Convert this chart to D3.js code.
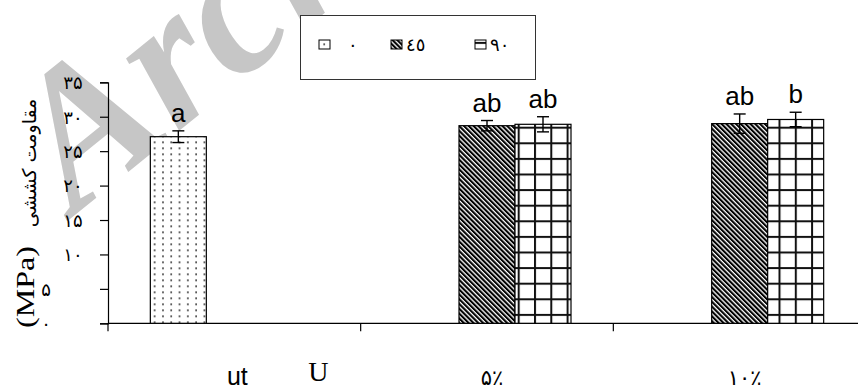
<!DOCTYPE html>
<html>
<head>
<meta charset="utf-8">
<script src="https://cdn.jsdelivr.net/npm/d3@7/dist/d3.min.js"></script>
<style>
  body { margin: 0; background: #fff; }
  svg { display: block; }
</style>
</head>
<body>
<svg id="chart" width="858" height="389"></svg>
<script>
// ---- data ----
const categories = ["ut", "۵٪", "۱۰٪"];
const seriesNames = ["۰", "٤٥", "۹۰"];
const series0 = [27.1, null, null];
const series45 = [null, 28.7, 29.0];
const series90 = [null, 28.9, 29.6];
const error0 = [0.85, null, null];
const error45 = [null, 0.75, 1.4];
const error90 = [null, 1.1, 1.05];
const letters0 = ["a", null, null];
const letters45 = [null, "ab", "ab"];
const letters90 = [null, "ab", "b"];
const yTickValues = [0, 5, 10, 15, 20, 25, 30, 35];
const yTickLabels = ["۰", "۵", "۱۰", "۱۵", "۲۰", "۲۵", "۳۰", "۳۵"];
const yTitleFa = "مقاومت کششی";
const yTitleUnit = "(MPa)";
const extraLabel = "U";
const watermark = "Archive of SID";

const seriesValues = [series0, series45, series90];
const seriesErrors = [error0, error45, error90];
const seriesLetters = [letters0, letters45, letters90];
const patternIds = ["p-dots", "p-diag", "p-grid"];

const svg = d3.select("#chart");
const W = 858, H = 389;
const plot = { left: 108, right: 866, top: 82.3, bottom: 323.3 };

// ---- patterns ----
const defs = svg.append("defs");
const dots = defs.append("pattern").attr("id", "p-dots")
  .attr("patternUnits", "userSpaceOnUse").attr("x", 1.5).attr("y", 1.5)
  .attr("width", 8.3).attr("height", 6);
dots.append("rect").attr("width", 8.3).attr("height", 6).attr("fill", "#fff");
dots.append("rect").attr("x", 3).attr("y", 2).attr("width", 1.5).attr("height", 1.5).attr("fill", "#000");

const diag = defs.append("pattern").attr("id", "p-diag")
  .attr("patternUnits", "userSpaceOnUse").attr("width", 3.4).attr("height", 10)
  .attr("patternTransform", "rotate(-45)");
diag.append("rect").attr("width", 3.4).attr("height", 10).attr("fill", "#fff");
diag.append("rect").attr("width", 2.1).attr("height", 10).attr("fill", "#000");

const grid = defs.append("pattern").attr("id", "p-grid")
  .attr("patternUnits", "userSpaceOnUse").attr("x", 534).attr("y", 142.3)
  .attr("width", 16.3).attr("height", 15.6);
grid.append("rect").attr("width", 16.3).attr("height", 15.6).attr("fill", "#fff");
grid.append("rect").attr("width", 2).attr("height", 15.6).attr("fill", "#111");
grid.append("rect").attr("width", 16.3).attr("height", 2).attr("fill", "#111");

// ---- watermark (drawn underneath everything) ----
svg.append("text")
  .attr("transform", "translate(75,215) rotate(-39)")
  .attr("font-family", "Liberation Serif, serif")
  .attr("font-weight", "bold").attr("font-style", "italic")
  .attr("font-size", 195).attr("fill", "#c6c6c6")
  .text(watermark);

// ---- scales ----
const x = d3.scaleBand().domain(categories).range([plot.left, plot.right]);
const groupWidth = 168;
const xs = d3.scaleBand().domain(seriesNames).range([0, groupWidth]);
const y = d3.scaleLinear().domain([0, 35]).range([plot.bottom, plot.top]);
const barX = (cat, s) => x(cat) + (x.bandwidth() - groupWidth) / 2 + xs(s);

// ---- y axis ----
const yAxis = d3.axisLeft(y).tickValues(yTickValues).tickSize(8).tickPadding(0)
  .tickFormat((d, i) => yTickLabels[i]);
const yg = svg.append("g").attr("transform", `translate(${plot.left},0)`).call(yAxis);
yg.select(".domain").attr("stroke", "#000").attr("stroke-width", 1.2);
yg.selectAll(".tick line").attr("stroke", "#000").attr("stroke-width", 1.2);
yg.selectAll(".tick text")
  .attr("font-family", "DejaVu Sans, sans-serif").attr("font-size", 18).attr("fill", "#000")
  .attr("text-anchor", "middle").attr("dy", "0.35em")
  .attr("x", (d, i) => yTickLabels[i].length > 1 ? -35 : -62);

// ---- x axis ----
svg.append("line").attr("x1", plot.left).attr("x2", W).attr("y1", plot.bottom).attr("y2", plot.bottom)
  .attr("stroke", "#000").attr("stroke-width", 1.2);
svg.append("g").selectAll("line").data(categories).join("line")
  .attr("x1", d => x(d)).attr("x2", d => x(d))
  .attr("y1", plot.bottom).attr("y2", plot.bottom + 8)
  .attr("stroke", "#000").attr("stroke-width", 1.2);

// category labels
svg.append("g").selectAll("text").data(categories).join("text")
  .attr("x", d => x(d) + x.bandwidth() / 2 + (d === categories[0] ? 3 : 5))
  .attr("y", 385)
  .attr("text-anchor", "middle")
  .attr("font-family", (d, i) => i === 0 ? "Liberation Sans, Arial, sans-serif" : "DejaVu Sans, sans-serif")
  .attr("font-size", (d, i) => i === 0 ? 25 : 21)
  .attr("fill", "#000")
  .text(d => d);
svg.append("text").attr("x", x(categories[0]) + x.bandwidth() / 2 + 84).attr("y", 381)
  .attr("text-anchor", "middle").attr("font-family", "Liberation Serif, serif")
  .attr("font-size", 28).attr("fill", "#000").text(extraLabel);

// ---- bars ----
const barData = [];
seriesNames.forEach((s, si) => {
  categories.forEach((c, ci) => {
    const v = seriesValues[si][ci];
    if (v != null) barData.push({ s, si, c, v, e: seriesErrors[si][ci], l: seriesLetters[si][ci] });
  });
});

const bars = svg.append("g");
bars.selectAll("rect").data(barData).join("rect")
  .attr("x", d => barX(d.c, d.s)).attr("width", xs.bandwidth())
  .attr("y", d => y(d.v)).attr("height", d => y(0) - y(d.v))
  .attr("fill", d => `url(#${patternIds[d.si]})`)
  .attr("stroke", "#000").attr("stroke-width", 1.2);

// error bars
const eb = svg.append("g").attr("stroke", "#000").attr("stroke-width", 1.4);
barData.forEach(d => {
  const cx = barX(d.c, d.s) + xs.bandwidth() / 2;
  eb.append("line").attr("x1", cx).attr("x2", cx).attr("y1", y(d.v + d.e)).attr("y2", y(d.v - d.e));
  eb.append("line").attr("x1", cx - 6).attr("x2", cx + 6).attr("y1", y(d.v + d.e)).attr("y2", y(d.v + d.e));
  eb.append("line").attr("x1", cx - 6).attr("x2", cx + 6).attr("y1", y(d.v - d.e)).attr("y2", y(d.v - d.e));
});

// significance letters
svg.append("g").selectAll("text").data(barData).join("text")
  .attr("x", d => barX(d.c, d.s) + xs.bandwidth() / 2)
  .attr("y", d => y(d.v + d.e) - 9)
  .attr("text-anchor", "middle")
  .attr("font-family", "Liberation Sans, Arial, sans-serif")
  .attr("font-size", 26).attr("fill", "#000")
  .text(d => d.l);

// ---- y title ----
svg.append("text").attr("transform", "translate(36,163) rotate(-90)")
  .attr("text-anchor", "middle").attr("direction", "rtl")
  .attr("font-family", "DejaVu Sans, sans-serif").attr("font-size", 19).attr("fill", "#000")
  .text(yTitleFa);
svg.append("text").attr("transform", "translate(34,287) rotate(-90)")
  .attr("text-anchor", "middle")
  .attr("font-family", "Liberation Serif, serif").attr("font-size", 25).attr("fill", "#000")
  .attr("textLength", 82).attr("lengthAdjust", "spacingAndGlyphs")
  .text(yTitleUnit);

// ---- legend ----
const legend = svg.append("g");
legend.append("rect").attr("x", 300.5).attr("y", 15.5).attr("width", 235).attr("height", 64)
  .attr("fill", "#fff").attr("stroke", "#333").attr("stroke-width", 1);
const legendX = [319, 391, 475];
const legendItems = legend.selectAll("g.item").data(seriesNames).join("g").attr("class", "item")
  .attr("transform", (d, i) => `translate(${legendX[i]},40)`);
legendItems.append("rect").attr("width", 11).attr("height", 9)
  .attr("fill", (d, i) => `url(#${patternIds[i]})`).attr("stroke", "#000").attr("stroke-width", 1);
legendItems.append("text").attr("x", (d, i) => i === 0 ? 29 : 15).attr("y", 11)
  .attr("font-family", "DejaVu Sans, sans-serif").attr("font-size", 18).attr("fill", "#000")
  .text(d => d);
</script>
</body>
</html>
